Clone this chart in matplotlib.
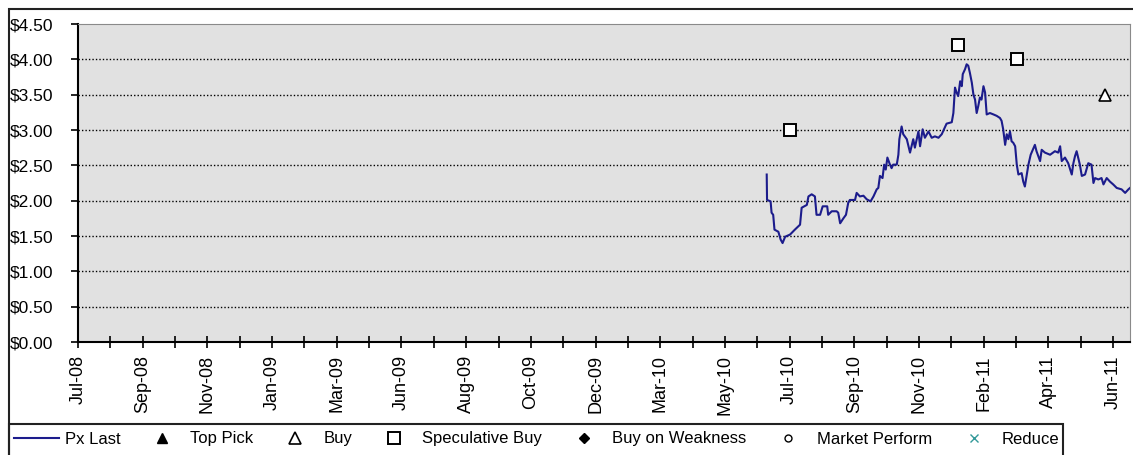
import matplotlib
matplotlib.use("Agg")
import matplotlib.pyplot as plt
from matplotlib.patches import Rectangle
import numpy as np

plt.rcParams['font.family'] = ['Liberation Sans', 'DejaVu Sans']

# x is in tick-steps from Jul-08 (labels sit on every second tick)
px_x = [21.29, 21.30, 21.41, 21.44, 21.49, 21.53, 21.65, 21.72, 21.78, 21.86,
        22.01, 22.16, 22.32, 22.37, 22.53, 22.58, 22.68, 22.78, 22.83, 22.94,
        23.02, 23.16, 23.19, 23.30, 23.45, 23.50, 23.56, 23.66, 23.74, 23.81,
        23.86, 24.02, 24.07, 24.17, 24.28, 24.38, 24.50, 24.59, 24.69, 24.74,
        24.79, 24.87, 24.92, 24.97, 25.02, 25.10, 25.15, 25.20, 25.31, 25.36,
        25.39, 25.46, 25.51, 25.62, 25.72, 25.82, 25.87, 25.98, 26.03, 26.11,
        26.18, 26.29, 26.39, 26.49, 26.60, 26.70, 26.77, 26.85, 27.01, 27.06,
        27.11, 27.16, 27.21, 27.27, 27.32, 27.35, 27.42, 27.47, 27.52, 27.57,
        27.63, 27.68, 27.73, 27.78, 27.83, 27.88, 27.93, 27.99, 28.04, 28.09,
        28.19, 28.30, 28.40, 28.50, 28.55, 28.60, 28.66, 28.71, 28.76, 28.81,
        28.86, 28.91, 28.97, 29.02, 29.07, 29.17, 29.22, 29.27, 29.33, 29.38,
        29.45, 29.58, 29.63, 29.74, 29.79, 29.89, 30.05, 30.20, 30.30, 30.36,
        30.41, 30.51, 30.61, 30.72, 30.77, 30.82, 30.87, 30.97, 31.03, 31.13,
        31.23, 31.33, 31.39, 31.44, 31.54, 31.64, 31.70, 31.80, 31.90, 32.00,
        32.11, 32.26, 32.37, 32.47, 32.57]
px_last = [2.37, 2.01, 1.99, 1.83, 1.80, 1.59, 1.56, 1.45, 1.40, 1.49,
           1.52, 1.59, 1.66, 1.90, 1.94, 2.06, 2.09, 2.06, 1.80, 1.80,
           1.92, 1.92, 1.80, 1.85, 1.85, 1.83, 1.68, 1.75, 1.80, 1.97,
           2.01, 2.01, 2.11, 2.06, 2.07, 2.02, 1.99, 2.06, 2.16, 2.18,
           2.35, 2.32, 2.51, 2.44, 2.61, 2.51, 2.46, 2.51, 2.51, 2.65,
           2.87, 3.05, 2.94, 2.87, 2.68, 2.87, 2.75, 2.98, 2.77, 3.01,
           2.89, 2.98, 2.89, 2.91, 2.89, 2.94, 3.01, 3.09, 3.11, 3.24,
           3.60, 3.53, 3.48, 3.69, 3.62, 3.79, 3.86, 3.93, 3.91, 3.81,
           3.67, 3.50, 3.43, 3.24, 3.34, 3.46, 3.43, 3.62, 3.53, 3.22,
           3.24, 3.22, 3.20, 3.17, 3.13, 3.01, 2.79, 2.94, 2.87, 2.98,
           2.84, 2.82, 2.77, 2.51, 2.37, 2.39, 2.27, 2.20, 2.37, 2.51,
           2.65, 2.79, 2.70, 2.56, 2.72, 2.68, 2.65, 2.70, 2.68, 2.77,
           2.56, 2.61, 2.53, 2.37, 2.53, 2.63, 2.70, 2.51, 2.35, 2.37,
           2.53, 2.51, 2.25, 2.32, 2.30, 2.32, 2.23, 2.32, 2.27, 2.23,
           2.18, 2.16, 2.11, 2.16, 2.20]

spec_buy_x = [22.01, 27.20, 29.03]
spec_buy_y = [3.00, 4.20, 4.00]
buy_x = [31.75]
buy_y = [3.50]

tick_labels = ['Jul-08', 'Sep-08', 'Nov-08', 'Jan-09', 'Mar-09', 'Jun-09',
               'Aug-09', 'Oct-09', 'Dec-09', 'Mar-10', 'May-10', 'Jul-10',
               'Sep-10', 'Nov-10', 'Feb-11', 'Apr-11', 'Jun-11']

fig = plt.figure(figsize=(11.33, 4.55), dpi=100)
ax = fig.add_axes([78/1133, 1 - 342/455, (1130 - 78)/1133, (342 - 24)/455])
ax.set_facecolor('#e1e1e1')

line, = ax.plot(px_x, px_last, color='#1c1c8c', lw=1.5, label='Px Last', zorder=3)
top_pick, = ax.plot([], [], ls='none', marker='^', color='black', ms=7, label='Top Pick')
buy, = ax.plot(buy_x, buy_y, ls='none', marker='^', mfc='white', mec='black',
               mew=1.2, ms=8, label='Buy', zorder=4)
spec, = ax.plot(spec_buy_x, spec_buy_y, ls='none', marker='s', mfc='white',
                mec='black', mew=1.4, ms=8, label='Speculative Buy', zorder=4)
bow, = ax.plot([], [], ls='none', marker='D', color='black', ms=5, label='Buy on Weakness')
mp, = ax.plot([], [], ls='none', marker='o', mfc='white', mec='black', ms=5,
              label='Market Perform')
red, = ax.plot([], [], ls='none', marker='x', color='#339999', ms=6, label='Reduce')

ax.set_xlim(0, 32.52)
ax.set_ylim(0, 4.5)
ax.set_yticks(np.arange(0, 4.51, 0.5))
ax.set_yticklabels(['$%.2f' % v for v in np.arange(0, 4.51, 0.5)], fontsize=12.5)
ax.set_xticks(range(33))
ax.set_xticklabels([tick_labels[i // 2] if i % 2 == 0 else '' for i in range(33)],
                   rotation=90, fontsize=13, va='top', ha='center')
ax.tick_params(axis='x', direction='inout', length=9, width=1.2, pad=5)
ax.tick_params(axis='y', direction='out', length=5, width=1.2, pad=13)

for v in np.arange(0.5, 4.01, 0.5):
    ax.axhline(v, color='black', lw=1, ls=(0, (1, 1.5)), zorder=1)

ax.spines['left'].set_linewidth(1.5)
ax.spines['bottom'].set_linewidth(1.5)
ax.spines['top'].set_color('#8a8a8a')
ax.spines['right'].set_color('#8a8a8a')

# outer chart frame and legend box
fig.add_artist(Rectangle((9/1133, -0.1), 1.2, 1 - 9/455 + 0.1, transform=fig.transFigure,
                         fill=False, ec='#222222', lw=1.5))
fig.add_artist(Rectangle((9/1133, -0.1), (1063 - 9)/1133, 0.1 + 1 - 424/455,
                         transform=fig.transFigure, fill=False, ec='#222222', lw=1.5))

fig.legend(handles=[line, top_pick, buy, spec, bow, mp, red], ncol=7,
           loc='center left', bbox_to_anchor=(14/1133, 1 - 439/455),
           frameon=False, fontsize=12, handlelength=2.7, handletextpad=0.35,
           columnspacing=1.15, borderpad=0, borderaxespad=0)

fig.savefig('out.png', dpi=100)
